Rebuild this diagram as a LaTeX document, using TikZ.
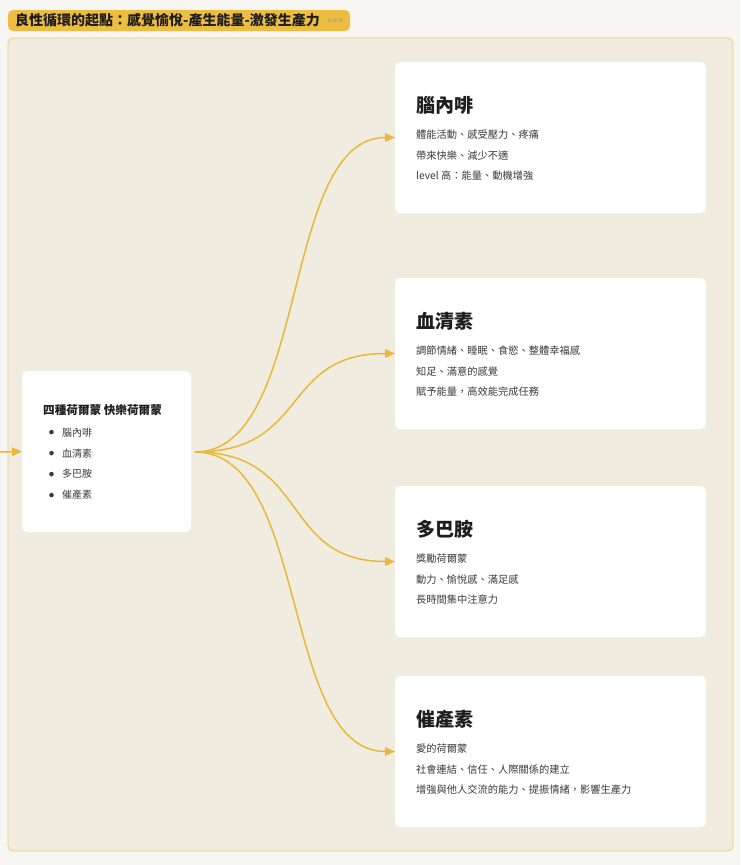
\documentclass[tikz,border=0pt]{standalone}
\usepackage{fontspec}
\setmainfont{Noto Sans CJK TC}
\usepackage{tikz}
\usetikzlibrary{arrows.meta,positioning}
\definecolor{hbpage}{RGB}{247,246,243}
\definecolor{hbframe}{RGB}{241,236,224}
\definecolor{hbframeline}{RGB}{236,206,120}
\definecolor{hbgold}{RGB}{236,189,64}
\definecolor{hbarrow}{RGB}{232,184,58}
\definecolor{hbtitle}{RGB}{30,30,30}
\definecolor{hbtext}{RGB}{58,58,58}
\definecolor{hbdots}{RGB}{200,172,104}
\tikzstyle{flow} = [line width=1.5pt,-{Triangle[length=10pt,width=8.5pt]},color=hbarrow]
\tikzstyle{card} = [rectangle, rounded corners=5pt, fill=white, minimum width=311pt, minimum height=151pt, inner sep=0pt, outer sep=0pt]
\tikzstyle{cardtitle} = [anchor=base west, inner sep=0pt, font=\fontsize{19}{22}\selectfont\bfseries, text=hbtitle]
\tikzstyle{cardtext} = [anchor=north west, inner sep=0pt, align=left, font=\fontsize{10.25}{20.5}\selectfont, text=hbtext]
\newcommand{\hbdot}{\makebox[13pt][l]{\raisebox{1.6pt}{\fontsize{5}{5}\selectfont ●}}}

\begin{document}
\begin{tikzpicture}[x=1pt, y=-1pt]
\useasboundingbox[fill=hbpage] (0,0) rectangle (740,865);
% Frame and title tag
\draw[fill=hbframe, draw=hbframeline, line width=0.8pt, rounded corners=5pt] (8,38) rectangle (733,851);
\node (tag) [rectangle, rounded corners=5pt, fill=hbgold, minimum width=342pt, minimum height=21pt, inner sep=0pt] at (179,20.5) {};
\node (tagT) [anchor=base west, inner sep=0pt, font=\fontsize{14}{16}\selectfont\bfseries, text=hbtitle] at (15,25.8) {良性循環的起點：感覺愉悅-產生能量-激發生產力};
\node (tagD) [anchor=base west, inner sep=0pt, font=\fontsize{4.5}{5}\selectfont, text=hbdots] at (327,22.2) {●\hspace{1.2pt}●\hspace{1.2pt}●};

% Central card
\node (four) [card, minimum width=169pt, minimum height=161pt] at (106.5,451.5) {};
\node (fourT) [anchor=base west, inner sep=0pt, font=\fontsize{11.6}{14}\selectfont\bfseries, text=hbtitle] at (43,414.5) {四種荷爾蒙 快樂荷爾蒙};
\node (fourL) [anchor=north west, inner sep=0pt, align=left, font=\fontsize{10}{20.7}\selectfont, text=hbtext] at (49,428) {%
\hbdot 腦內啡\\
\hbdot 血清素\\
\hbdot 多巴胺\\
\hbdot 催產素};

% Four hormone cards
\node (brain) [card] at (550.5,137.5) {};
\node (sero) [card, below=65pt of brain] {};
\node (dopa) [card, below=57pt of sero] {};
\node (oxy) [card, below=39pt of dopa] {};

\node (brainT) [cardtitle] at ([xshift=21pt,yshift=-50pt]brain.north west) {腦內啡};
\node (brainL) [cardtext] at ([xshift=21pt,yshift=-68pt]brain.north west) {體能活動、感受壓力、疼痛\\帶來快樂、減少不適\\level 高：能量、動機增強};
\node (seroT) [cardtitle] at ([xshift=21pt,yshift=-50pt]sero.north west) {血清素};
\node (seroL) [cardtext] at ([xshift=21pt,yshift=-68pt]sero.north west) {調節情緒、睡眠、食慾、整體幸福感\\知足、滿意的感覺\\賦予能量，高效能完成任務};
\node (dopaT) [cardtitle] at ([xshift=21pt,yshift=-50pt]dopa.north west) {多巴胺};
\node (dopaL) [cardtext] at ([xshift=21pt,yshift=-68pt]dopa.north west) {獎勵荷爾蒙\\動力、愉悅感、滿足感\\長時間集中注意力};
\node (oxyT) [cardtitle] at ([xshift=21pt,yshift=-50pt]oxy.north west) {催產素};
\node (oxyL) [cardtext] at ([xshift=21pt,yshift=-68pt]oxy.north west) {愛的荷爾蒙\\社會連結、信任、人際關係的建立\\增強與他人交流的能力、提振情緒，影響生產力};

% Connectors
\coordinate (in) at (0,452);
\coordinate (fork) at (195,452);
\draw[flow] (in) -- (four.west);
\draw[flow] (fork) .. controls +(115,0) and +(-115,0) .. (brain.west);
\draw[flow] (fork) .. controls +(115,0) and +(-115,0) .. (sero.west);
\draw[flow] (fork) .. controls +(115,0) and +(-115,0) .. (dopa.west);
\draw[flow] (fork) .. controls +(115,0) and +(-115,0) .. (oxy.west);
\end{tikzpicture}
\end{document}
